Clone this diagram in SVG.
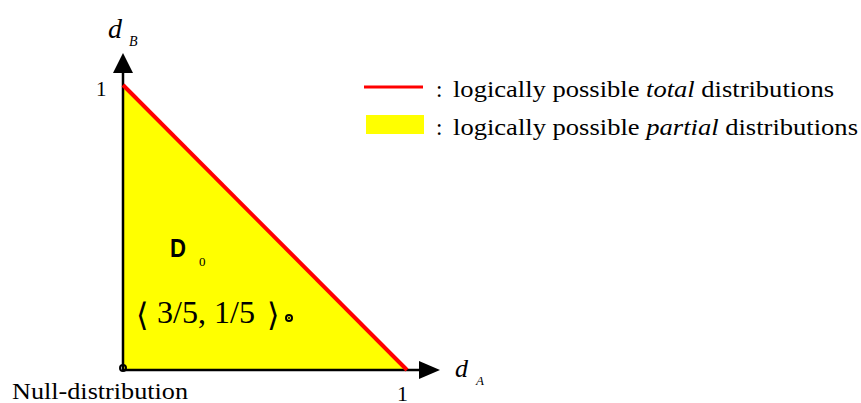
<svg xmlns="http://www.w3.org/2000/svg" width="861" height="403" viewBox="0 0 861 403">
<style>
.ax{stroke:#000;stroke-width:2.5;fill:none}
.dot{fill:none;stroke:#000;stroke-width:2}
.s{font-family:Liberation Serif,Times New Roman,serif}
</style>
<rect width="861" height="403" fill="#fff"/>
<g id="region">
<polygon points="123,85 407,370 123,370" fill="#ffff00"/>
</g>
<g id="connectors">
<line class="ax" x1="123" y1="370" x2="123" y2="72"/>
<polygon points="113,73 133,73 123,53" fill="#000"/>
<line class="ax" x1="123" y1="370" x2="420" y2="370"/>
<polygon points="419,361 419,379 440,370" fill="#000"/>
<line x1="123" y1="85" x2="407" y2="370" stroke="#ff0000" stroke-width="4"/>
</g>
<g id="origin">
<circle class="dot" cx="123" cy="368" r="3"/>
<circle cx="123" cy="368" r="1" fill="#000"/>
</g>
<g id="point">
<circle class="dot" cx="289" cy="318" r="3"/>
<circle cx="289" cy="318" r="1" fill="#000"/>
</g>
<g id="labels" class="s" fill="#000">
<text x="108" y="38" font-size="28" font-style="italic">d</text>
<text x="129" y="46" font-size="14" font-style="italic">B</text>
<text x="96" y="96" font-size="21">1</text>
<text x="455" y="377" font-size="26" font-style="italic">d</text>
<text x="476" y="385" font-size="13" font-style="italic">A</text>
<text x="397" y="401" font-size="22">1</text>
<text x="12" y="399" font-size="24" textLength="176" lengthAdjust="spacingAndGlyphs">Null-distribution</text>
<text x="170" y="257" font-size="26" font-weight="bold" font-family="Liberation Sans,Arial,sans-serif" textLength="16" lengthAdjust="spacingAndGlyphs">D</text>
<text x="199" y="266" font-size="13">0</text>
<text x="136" y="326" font-size="32" font-family="DejaVu Sans,sans-serif">⟨</text>
<text x="157" y="323" font-size="31" textLength="98" lengthAdjust="spacingAndGlyphs">3/5, 1/5</text>
<text x="267" y="326" font-size="32" font-family="DejaVu Sans,sans-serif">⟩</text>
</g>
<g id="legend" class="s" fill="#000">
<line x1="364" y1="87" x2="423" y2="87" stroke="#ff0000" stroke-width="3"/>
<rect x="366" y="115" width="58" height="19" fill="#ffff00"/>
<text x="436" y="97" font-size="23">:</text>
<text x="436" y="135" font-size="23">:</text>
<text x="453" y="97" font-size="23" textLength="381" lengthAdjust="spacingAndGlyphs">logically possible <tspan font-style="italic">total</tspan> distributions</text>
<text x="453" y="135" font-size="23" textLength="405" lengthAdjust="spacingAndGlyphs">logically possible <tspan font-style="italic">partial</tspan> distributions</text>
</g>
</svg>
